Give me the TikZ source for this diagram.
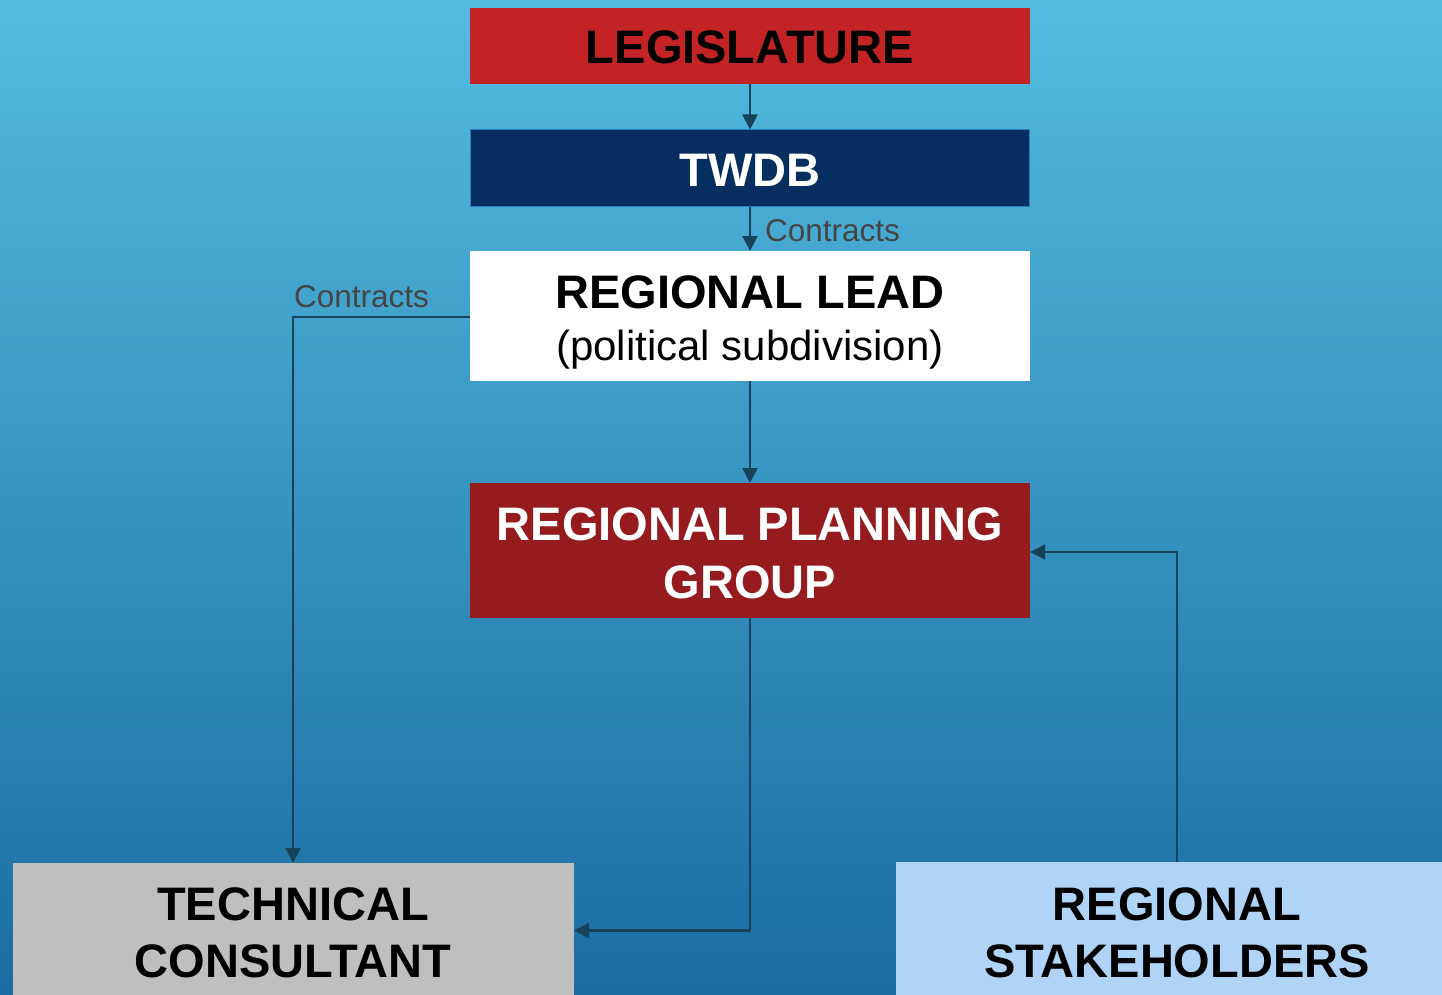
\documentclass[tikz,border=0pt]{standalone}
\usepackage{fontspec}
\setmainfont{Liberation Sans}
\usetikzlibrary{arrows.meta}

\definecolor{bgtop}{HTML}{53BCE0}
\definecolor{bgbottom}{HTML}{1B6CA2}
\definecolor{legred}{HTML}{C42326}
\definecolor{twdbnavy}{HTML}{062E5F}
\definecolor{twdbedge}{HTML}{2F7EC0}
\definecolor{rpgred}{HTML}{961B1F}
\definecolor{tcgray}{HTML}{BFBFBF}
\definecolor{rsblue}{HTML}{B0D3F8}
\definecolor{linkcol}{HTML}{16425A}
\definecolor{labelgray}{HTML}{454545}

\tikzset{
  box/.style={rectangle, inner sep=0pt, outer sep=0pt, draw=none},
  bigtext/.style={anchor=base, inner sep=0pt, font=\fontsize{47}{57}\selectfont\bfseries},
  subtext/.style={anchor=base, inner sep=0pt, font=\fontsize{42}{50}\selectfont},
  linklabel/.style={anchor=base west, inner sep=0pt, text=labelgray, font=\fontsize{31.5}{38}\selectfont},
  link/.style={draw=linkcol, line width=2.5pt, -{Triangle[length=15pt,width=15pt]}},
}

\begin{document}
\begin{tikzpicture}[x=1pt, y=-1pt]
  \useasboundingbox (0,0) rectangle (1442,995);
  \clip (0,0) rectangle (1442,995);
  \shade[top color=bgtop, bottom color=bgbottom] (0,0) rectangle (1442,995);

  % boxes
  \node[box, fill=legred, minimum width=560pt, minimum height=76pt] (leg) at (750,46) {};
  \node[box, fill=twdbnavy, draw=twdbedge, line width=1.5pt, minimum width=559pt, minimum height=77pt] (twdb) at (750,168) {};
  \node[box, fill=white, minimum width=560pt, minimum height=130pt] (lead) at (750,316) {};
  \node[box, fill=rpgred, minimum width=560pt, minimum height=135pt] (rpg) at (750,550.5) {};
  \node[box, fill=tcgray, minimum width=561pt, minimum height=137pt] (tc) at (293.5,931.5) {};
  \node[box, fill=rsblue, minimum width=562pt, minimum height=138pt] (rs) at (1177,931) {};

  % box texts
  \node[bigtext, text=black] (legt) at (750,64) {LEGISLATURE};
  \node[bigtext, text=white] (twdbt) at (750,186.5) {TWDB};
  \node[bigtext, text=black] (leadt) at (750,308) {REGIONAL LEAD};
  \node[subtext, text=black] (leadsub) at (750,360) {(political subdivision)};
  \node[bigtext, text=white] (rpgt1) at (750,540.5) {REGIONAL PLANNING};
  \node[bigtext, text=white] (rpgt2) at (750,598) {GROUP};
  \node[bigtext, text=black] (tct1) at (293,920) {TECHNICAL};
  \node[bigtext, text=black] (tct2) at (293,977) {CONSULTANT};
  \node[bigtext, text=black] (rst1) at (1177,920) {REGIONAL};
  \node[bigtext, text=black] (rst2) at (1177,977) {STAKEHOLDERS};

  % connector labels
  \node[linklabel] (c1) at (765,241) {Contracts};
  \node[linklabel] (c2) at (294,307) {Contracts};

  % connectors
  \coordinate (rsturn) at (1177,552);
  \coordinate (rsin) at (1030,552);
  \coordinate (leadout) at (470,317);
  \coordinate (leadturn) at (293,317);
  \coordinate (tctop) at (293,863);
  \coordinate (rpgturn) at (750,930.5);
  \coordinate (tcin) at (574,930.5);

  \draw[link] (leg.south) -- (twdb.north);
  \draw[link] (twdb.south) -- (lead.north);
  \draw[link] (lead.south) -- (rpg.north);
  \draw[link] (leadout) -- (leadturn) -- (tctop);
  \draw[link] (rpg.south) -- (rpgturn) -- (tcin);
  \draw[link] (rs.north -| rsturn) -- (rsturn) -- (rsin);
\end{tikzpicture}
\end{document}
